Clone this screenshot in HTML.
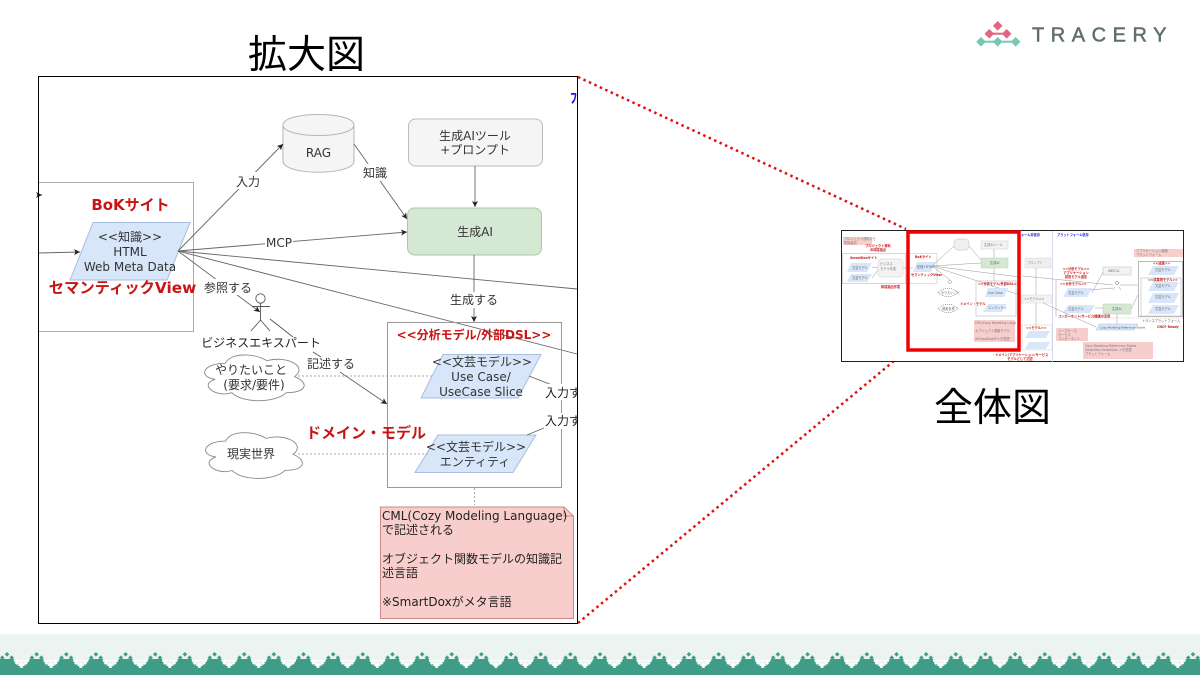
<!DOCTYPE html>
<html lang="ja"><head><meta charset="utf-8"><title>拡大図</title>
<style>
html,body{margin:0;padding:0;background:#fff;width:1200px;height:675px;overflow:hidden}
svg{display:block}
text{font-family:"DejaVu Sans","Noto Sans CJK JP",sans-serif;fill:#333}
.m{text-anchor:middle}
.t{font-family:"Liberation Sans","Noto Sans CJK JP",sans-serif;fill:#000;font-size:39px;text-anchor:middle}
.r{fill:#c81414;font-weight:bold;text-anchor:middle}
.l{stroke:#666;stroke-width:.9;fill:none}
.b{fill:#d7e6f9;stroke:#a8bedc;stroke-width:1}
.d{stroke:#aaa;stroke-width:1;stroke-dasharray:2 2;fill:none}
.s text{font-size:3.200px;fill:#666}
.s .r2{fill:#c81414;font-weight:bold}
.s .bl{fill:#22c;font-weight:bold}
.s .ln{stroke:#999;stroke-width:.5;fill:none}
</style></head><body>
<svg width="1200" height="675" viewBox="0 0 1200 675" xmlns="http://www.w3.org/2000/svg">
<defs>
<marker id="a" markerWidth="7" markerHeight="7" refX="6" refY="3" orient="auto" markerUnits="userSpaceOnUse"><path d="M0 0L6 3L0 6L1.500 3Z" fill="#222"/></marker>
<pattern id="foot" width="29.65" height="41" patternUnits="userSpaceOnUse" x="0" y="634">
<rect width="29.65" height="41" fill="#ecf4f2"/>
<path d="M-1 26H14V28H16V30H18V32H20V34H23V32H25V30H27V28H29V26H31V41H-1Z" fill="#3f9d87"/>
<rect x="0" y="25" width="14" height="1" fill="#3f9d87"/>
<path d="M7 18l2.300 2.300-2.300 2.300-2.300-2.300ZM2.300 21.400l2.300 2.300-2.300 2.300-2.300-2.300ZM11.700 21.400l2.300 2.300-2.300 2.300-2.300-2.300ZM31.950 21.400l2.300 2.300-2.300 2.300-2.300-2.300Z" fill="#3f9d87"/>
<path d="M16.700 27l2 2-2 2-2-2ZM26 27l2 2-2 2-2-2ZM21.300 28.500l2.500 2.500-2.500 2.500-2.500-2.500Z" fill="#fff"/>
<rect x="14" y="26" width="15" height="1" fill="#fff"/>
</pattern>
</defs>

<text class="t" x="306.500" y="68">拡大図</text>
<text class="t" x="992.500" y="421">全体図</text>

<!-- logo -->
<g>
<rect x="989" y="32.700" width="18" height="2" fill="#e5647f"/>
<rect x="981" y="40.700" width="35" height="2" fill="#74c8b4"/>
<g fill="#e5647f"><path d="M997.700 21l4.800 4.800-4.800 4.800-4.800-4.800Z"/><path d="M989.300 29l4.800 4.800-4.800 4.800-4.800-4.800Z"/><path d="M1006.700 29l4.800 4.800-4.800 4.800-4.800-4.800Z"/></g>
<g fill="#74c8b4"><path d="M981 37l4.800 4.800-4.800 4.800-4.800-4.800Z"/><path d="M997.700 37l4.800 4.800-4.800 4.800-4.800-4.800Z"/><path d="M1015.700 37l4.800 4.800-4.800 4.800-4.800-4.800Z"/></g>
<text x="1032" y="41.700" textLength="134.500" lengthAdjust="spacing" style="font-family:'Liberation Sans',sans-serif;font-size:20px;fill:#5f6f6b;stroke:#5f6f6b;stroke-width:.5">TRACERY</text>
</g>

<!-- connector dotted -->
<path d="M578 77L906 229M578 623L906 351" stroke="#e01010" stroke-width="2.500" stroke-dasharray="2.500 3.500" fill="none"/>

<!-- main diagram -->
<rect x="38.500" y="76.500" width="539" height="547" fill="#fff"/>
<text x="570" y="103" style="font-size:14px;fill:#1a1ae0;font-weight:bold">ﾌ</text>

<rect x="38.500" y="182.500" width="155" height="149" fill="#fff" stroke="#aaa"/>
<path d="M38 195H42" stroke="#222" marker-end="url(#a)"/>
<path class="l" d="M39 253L80 252" marker-end="url(#a)"/>
<text class="r" x="130.500" y="210" style="font-size:15px">BoKサイト</text>
<path class="b" d="M93 222.500H190L167 280H70Z"/>
<g font-size="12"><text class="m" x="130" y="241">&lt;&lt;知識&gt;&gt;</text><text class="m" x="130" y="256">HTML</text><text class="m" x="130" y="271">Web Meta Data</text></g>
<text class="r" x="122.500" y="293" style="font-size:15.300px">セマンティックView</text>

<!-- RAG -->
<path d="M283 125C283 111 354 111 354 125V161C354 176 283 176 283 161Z" fill="#f5f5f5" stroke="#b5b5b5"/>
<path d="M283 125C283 139 354 139 354 125" fill="none" stroke="#b5b5b5"/>
<text class="m" x="318.500" y="157" font-size="12">RAG</text>

<rect x="408.500" y="119" width="134" height="47" rx="7" fill="#f5f5f5" stroke="#bbb"/>
<text class="m" x="475" y="140" font-size="12">生成AIツール</text>
<text class="m" x="475" y="154" font-size="12">+プロンプト</text>

<rect x="407.500" y="208" width="134" height="47" rx="7" fill="#d5e8d4" stroke="#a9c9a4"/>
<text class="m" x="475" y="236" font-size="12">生成AI</text>

<path class="l" d="M475 166V207" marker-end="url(#a)"/>
<path class="l" d="M474 255V322" marker-end="url(#a)"/>
<path class="l" d="M178 251L283 144" marker-end="url(#a)"/>
<path class="l" d="M354 144L407 219" marker-end="url(#a)"/>
<path class="l" d="M178 251L407 232" marker-end="url(#a)"/>
<path class="l" d="M178 251L577 289"/>
<path class="l" d="M178 251L577 354"/>
<path class="l" d="M178 251L260 312" marker-end="url(#a)"/>

<g fill="#fff"><rect x="235" y="172" width="26" height="17"/><rect x="265" y="234" width="28" height="16"/><rect x="362" y="164" width="26" height="17"/><rect x="204" y="279" width="50" height="16"/><rect x="449" y="292" width="50" height="16"/></g>
<g font-size="12"><text class="m" x="248" y="186">入力</text><text class="m" x="279" y="247">MCP</text><text class="m" x="375" y="177">知識</text><text class="m" x="228" y="292">参照する</text><text class="m" x="474" y="304">生成する</text></g>

<!-- actor -->
<g fill="none" stroke="#555" stroke-width=".9"><circle cx="260.500" cy="298.500" r="4.700"/><path d="M260.500 303V320M252 306.500H270M260.500 320L251 331M260.500 320L270 331"/><path d="M270 319L293 337M313 352L321 357"/></g>
<rect x="200" y="337" width="122" height="14" fill="#fff"/>
<text class="m" x="261" y="347" font-size="12" style="fill:#222">ビジネスエキスパート</text>

<!-- DSL box -->
<rect x="387.500" y="322.500" width="174" height="165" fill="none" stroke="#999"/>
<text class="r" x="474" y="339" style="font-size:12px">&lt;&lt;分析モデル/外部DSL&gt;&gt;</text>

<path class="b" d="M443 354.500H541L518 398H421Z"/>
<g font-size="12"><text class="m" x="482" y="366">&lt;&lt;文芸モデル&gt;&gt;</text><text class="m" x="481" y="381">Use Case/</text><text class="m" x="481" y="396">UseCase Slice</text></g>
<path class="b" d="M438 435H536L513 472.500H415Z"/>
<g font-size="12"><text class="m" x="476" y="451">&lt;&lt;文芸モデル&gt;&gt;</text><text class="m" x="475" y="466">エンティティ</text></g>

<path class="l" d="M529 376L552 385M527 435L544 428"/>
<rect x="544" y="384" width="33" height="16" fill="#fff"/><rect x="544" y="413" width="33" height="16" fill="#fff"/>
<text x="545" y="397" font-size="12" style="fill:#222">入力す</text>
<text x="545" y="425" font-size="12" style="fill:#222">入力す</text>
<rect x="578" y="380" width="8" height="50" fill="#fff"/>

<text class="r" x="366" y="438" style="font-size:15px">ドメイン・モデル</text>

<!-- dotted + clouds -->
<path class="d" d="M298 376H434M298 454H428"/>
<path d="M30 20C6 20 0 40 19.200 44C0 52.800 21.600 72 37.200 64C48 80 84 80 96 64C120 64 120 48 105 40C120 24 96 8 75 16C60 4 36 4 30 20Z" fill="#fff" stroke="#888" stroke-width=".9" vector-effect="non-scaling-stroke" transform="translate(197.400 350) scale(.926 .667)"/>
<text class="m" x="251" y="374" font-size="12">やりたいこと</text>
<text class="m" x="254" y="389" font-size="12">(要求/要件)</text>
<path d="M30 20C6 20 0 40 19.200 44C0 52.800 21.600 72 37.200 64C48 80 84 80 96 64C120 64 120 48 105 40C120 24 96 8 75 16C60 4 36 4 30 20Z" fill="#fff" stroke="#888" stroke-width=".9" vector-effect="non-scaling-stroke" transform="translate(198.600 427.700) scale(.9 .667)"/>
<text class="m" x="251" y="458" font-size="12">現実世界</text>

<path class="l" d="M340 372L387 404" marker-end="url(#a)"/>
<text class="m" x="331" y="368" font-size="12">記述する</text>

<path class="d" d="M474.500 488V505"/>

<!-- note -->
<path d="M380.500 507H564L573.500 516V618.500H380.500Z" fill="#f8cecc" stroke="#c98a87"/>
<path d="M564 507V516H573.500" fill="none" stroke="#c98a87"/>
<g font-size="12"><text x="382" y="520" style="fill:#222">CML(Cozy Modeling Language)</text><text x="382" y="534" style="fill:#222">で記述される</text><text x="382" y="563" style="fill:#222">オブジェクト関数モデルの知識記</text><text x="382" y="577" style="fill:#222">述言語</text><text x="382" y="606" style="fill:#222">※SmartDoxがメタ言語</text></g>

<rect x="38.500" y="76.500" width="539" height="547" fill="none" stroke="#000" stroke-width="1"/>

<!-- thumbnail -->
<g class="s">
<rect x="841.500" y="230.500" width="342" height="131" fill="#fff" stroke="#222"/>
<rect x="843" y="237" width="29" height="8" fill="#f8cecc"/>
<text x="844" y="240" style="fill:#777">プロジェクト資料から</text><text x="844" y="244" style="fill:#777">知識抽出</text>
<rect x="842.500" y="253.500" width="63" height="30" fill="none" stroke="#bbb" stroke-width=".6"/>
<text x="878" y="247" class="r2" text-anchor="middle">プロジェクト資料</text>
<text x="878" y="251" class="r2" text-anchor="middle">の知識抽出</text>
<text x="850" y="259" class="r2">SmartDoxサイト</text>
<path d="M851 263H872L867 272H847ZM851 274H872L867 282H847Z" fill="#d7e6f9"/>
<text x="852" y="269" style="fill:#666">文芸モデル</text><text x="852" y="279" style="fill:#666">文芸モデル</text>
<rect x="878" y="259" width="25" height="18" rx="3" fill="#f3f3f3" stroke="#ccc" stroke-width=".5"/>
<text x="880" y="265" style="fill:#777">ビジネス</text><text x="880" y="270" style="fill:#777">モデル作成</text>
<text x="881" y="288" class="r2">知識抽出作業</text>
<path class="ln" d="M872 267L878 268M872 278L878 270M903 268H913"/>

<rect x="908" y="253.500" width="29" height="30" fill="none" stroke="#bbb" stroke-width=".5"/>
<text x="915" y="258" class="r2">BoKサイト</text>
<path d="M917 262H936L931 272H913Z" fill="#d7e6f9"/>
<text x="917" y="268" style="fill:#666">知識 HTML</text>
<text x="911" y="276" class="r2">セマンティックView</text>
<rect x="954" y="239" width="15" height="11" rx="4" fill="#f0f0f0" stroke="#bbb" stroke-width=".5"/>
<rect x="981" y="241" width="27" height="8" fill="#f3f3f3" stroke="#ccc" stroke-width=".5"/>
<text x="984" y="246" style="fill:#777">生成AIツール</text>
<rect x="981" y="258" width="27" height="10" fill="#d5e8d4" stroke="#b5d2b0" stroke-width=".5"/>
<text x="990" y="264" style="fill:#666">生成AI</text>
<path class="ln" d="M932 266L954 246M969 246L981 260M932 266L981 263M932 266L1020 277M932 266L1020 295M932 266L950 280M994 249V258M994 268V281"/>
<circle cx="950" cy="282" r="1.500" fill="none" stroke="#888" stroke-width=".5"/>
<path d="M938 292.500Q948 284 958 292.500Q948 301 938 292.500ZM938 308.500Q948 300 958 308.500Q948 317 938 308.500Z" fill="#fff" stroke="#666" stroke-width=".6" stroke-dasharray="1 1"/>
<text x="941" y="294" style="fill:#666">やりたいこと</text><text x="942" y="310" style="fill:#666">現実世界</text>
<rect x="976" y="281" width="40" height="35" fill="none" stroke="#bbb" stroke-width=".6"/>
<text x="978" y="285" class="r2">&lt;&lt;分析モデル/外部DSL&gt;&gt;</text>
<path d="M988 288H1008L1004 297H985ZM988 304H1007L1002 312H983Z" fill="#d7e6f9"/>
<text x="988" y="294" style="fill:#666">Use Case</text><text x="988" y="309" style="fill:#666">エンティティ</text>
<text x="960" y="305" class="r2">ドメイン・モデル</text>
<rect x="974" y="320" width="41" height="22" fill="#f8cecc"/>
<text x="975" y="324" style="fill:#777">CML(Cozy Modeling Lang)</text><text x="975" y="332" style="fill:#777">オブジェクト関数モデル</text><text x="975" y="340" style="fill:#777">※SmartDoxがメタ言語</text>

<rect x="1020" y="295" width="5" height="8" fill="#f3f3f3"/>
<path d="M1052.500 231V362" stroke="#cdd0f0" stroke-width=".8"/>
<text x="1021" y="236" class="bl">ォーム非依存</text><text x="1057" y="236" class="bl">プラットフォーム依存</text>
<rect x="1025" y="258" width="26" height="10" fill="#efefef" stroke="#ccc" stroke-width=".4"/>
<text x="1027" y="264" style="fill:#888">プロンプト</text>
<rect x="1022" y="295" width="30" height="8" fill="#f3f3f3" stroke="#ccc" stroke-width=".4"/>
<text x="1024" y="300" style="fill:#777">&lt;&lt;モデル&gt;&gt;</text>
<rect x="1022" y="325" width="30" height="25" fill="none" stroke="#ccc" stroke-width=".5"/>
<text x="1026" y="329" class="r2">&lt;&lt;モデル&gt;&gt;</text>
<path d="M1029 331H1050L1046 338H1025ZM1029 342H1050L1046 349H1025Z" fill="#d7e6f9"/>
<path class="ln" d="M1036 268V295M1036 303V325"/>
<text x="1076" y="270" class="r2" text-anchor="middle">&lt;&lt;分析モデル&gt;&gt;</text><text x="1076" y="274" class="r2" text-anchor="middle">アプリケーション</text><text x="1076" y="278" class="r2" text-anchor="middle">前提モデル選定</text>
<text x="1060" y="285" class="r2">&lt;&lt;分析モデル&gt;&gt;</text>
<path class="ln" d="M1056 280V316"/>
<path d="M1068 288H1092L1087 297H1063ZM1068 305H1095L1090 313H1063Z" fill="#d7e6f9"/>
<text x="1068" y="294" style="fill:#666">文芸モデル</text><text x="1068" y="310" style="fill:#666">文芸モデル</text>
<text x="1058" y="317.500" class="r2">コンポーネント/サービス機構の活用</text>
<rect x="1103" y="267" width="28" height="8" fill="#f3f3f3" stroke="#bbb" stroke-width=".5"/>
<text x="1108" y="272" style="fill:#666">IDE/CLI</text>
<rect x="1103" y="304" width="28" height="10" fill="#d5e8d4" stroke="#b5d2b0" stroke-width=".5"/>
<text x="1112" y="310" style="fill:#666">生成AI</text>
<path d="M1099 324H1138L1134 330H1096Z" fill="#d7e6f9" stroke="#9db5d6" stroke-width=".4"/>
<text x="1100" y="328.500" style="fill:#555;font-size:2.800px">Cozy Modeling Reference Stable</text>
<path class="ln" d="M1092 293L1103 272M1095 308H1103M1043 303L1096 327M1117 314V324M1090 290L1113 288M1023 276L1113 285M1120 285H1138M1131 309L1138 295"/>
<path d="M1100 318H1183" stroke="#aaa" stroke-width=".5" stroke-dasharray="1 1"/>
<circle cx="1117" cy="283" r="1.500" fill="none" stroke="#666" stroke-width=".5"/>
<path class="ln" d="M1115 287L1113 290M1119 287L1121 290"/>
<rect x="1056" y="328" width="32" height="13" fill="#f8cecc"/>
<text x="1058" y="332" style="fill:#777">ユースケース</text><text x="1058" y="336" style="fill:#777">サービス</text><text x="1058" y="340" style="fill:#777">コンポーネント</text>
<rect x="1083" y="342" width="70" height="17" fill="#f8cecc"/>
<text x="1085" y="347" style="fill:#777">Cozy Modeling Reference Stable</text><text x="1085" y="351" style="fill:#777">SmartDox SmartDox メタ言語</text><text x="1085" y="355" style="fill:#777">プラットフォーム</text>
<rect x="1134" y="249" width="49" height="8" fill="#f8cecc"/>
<text x="1136" y="252" style="fill:#777">アプリケーション構築</text><text x="1136" y="256" style="fill:#777">プラットフォーム</text>
<rect x="1138.500" y="261.500" width="44" height="55" fill="none" stroke="#aaa" stroke-width=".8"/>
<rect x="1141" y="278" width="40" height="38" fill="none" stroke="#bbb" stroke-width=".6"/>
<text x="1153" y="264.500" class="r2">&lt;&lt;成果&gt;&gt;</text><text x="1148" y="281" class="r2">&lt;&lt;成果物モデル&gt;&gt;</text>
<path d="M1153 266H1179L1174 275H1148ZM1153 282H1179L1174 291H1148ZM1153 293H1179L1174 303H1148ZM1153 305H1179L1174 314H1148Z" fill="#d7e6f9"/>
<text x="1155" y="271" style="fill:#666">文芸モデル</text><text x="1155" y="287" style="fill:#666">文芸モデル</text><text x="1155" y="298" style="fill:#666">文芸モデル</text><text x="1155" y="310" style="fill:#666">文芸モデル</text>
<text x="1142" y="322" style="fill:#555">トランスプラットフォーム</text><text x="1157" y="328" class="r2">CNCF Ready</text>
<text x="1020" y="356" class="r2" text-anchor="middle">・ドメイン/アプリケーション/サービス</text><text x="1020" y="360" class="r2" text-anchor="middle">モデルとして記述</text>
</g>
<rect x="908" y="232" width="111" height="118" fill="none" stroke="#f00000" stroke-width="3.500"/>

<!-- footer -->
<rect x="0" y="634" width="1200" height="41" fill="url(#foot)"/>
</svg>
</body></html>
